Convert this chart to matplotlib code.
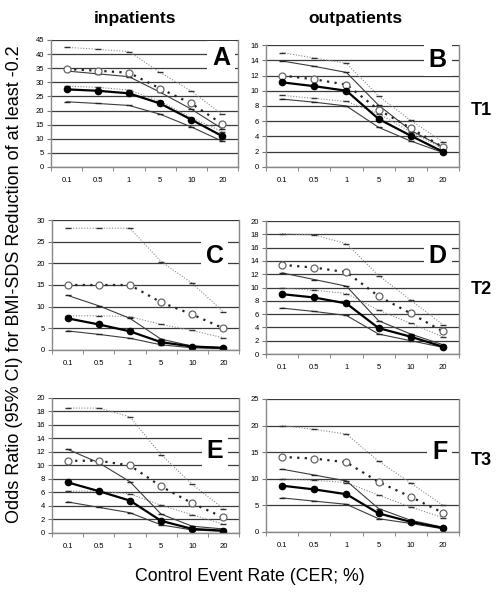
import matplotlib
matplotlib.use('Agg')
import matplotlib.pyplot as plt
import numpy as np

plt.rcParams['font.family'] = ['Liberation Sans', 'DejaVu Sans']

# Categories (control event rate, %)
cer_labels = ['0.1', '0.5', '1', '5', '10', '20']

# Values: hollow series (dotted) with its CI, filled series (solid) with its CI
A_hol_hi = [42.4, 41.7, 40.9, 33.5, 26.9, 18.6]
A_hol = [34.7, 34.1, 33.4, 27.8, 22.5, 15.2]
A_hol_lo = [28.7, 28.2, 27.3, 23.3, 17.5, 12.5]
A_fil_hi = [34.0, 33.0, 32.0, 26.5, 20.5, 13.5]
A_fil = [27.5, 27.0, 26.1, 22.5, 16.8, 10.9]
A_fil_lo = [23.1, 22.5, 21.8, 18.7, 14.2, 9.1]

B_hol_hi = [15.0, 14.3, 13.6, 9.3, 6.1, 3.3]
B_hol = [12.0, 11.5, 10.8, 7.5, 5.1, 2.6]
B_hol_lo = [9.4, 9.0, 8.6, 7.0, 4.6, 2.4]
B_fil_hi = [13.9, 13.2, 12.4, 8.1, 4.8, 2.6]
B_fil = [11.1, 10.6, 10.0, 6.3, 4.1, 2.0]
B_fil_lo = [8.9, 8.5, 8.0, 5.2, 3.4, 1.9]

C_hol_hi = [28.1, 28.1, 28.1, 20.4, 15.4, 8.8]
C_hol = [15.0, 15.0, 15.0, 11.0, 8.2, 5.0]
C_hol_lo = [7.9, 7.9, 7.7, 5.9, 4.5, 2.8]
C_fil_hi = [12.6, 10.2, 7.3, 2.5, 0.9, 0.5]
C_fil = [7.3, 5.9, 4.3, 1.8, 0.8, 0.5]
C_fil_lo = [4.4, 3.6, 2.7, 1.2, 0.5, 0.3]

D_hol_hi = [18.1, 17.9, 16.6, 11.8, 8.1, 4.4]
D_hol = [13.4, 13.0, 12.3, 8.7, 6.1, 3.4]
D_hol_lo = [9.9, 9.6, 9.1, 6.6, 4.6, 2.6]
D_fil_hi = [12.2, 11.2, 10.2, 5.0, 3.0, 1.4]
D_fil = [9.0, 8.5, 7.6, 3.9, 2.6, 1.1]
D_fil_lo = [6.9, 6.4, 5.8, 3.0, 2.0, 1.0]

E_hol_hi = [18.5, 18.5, 17.2, 11.6, 7.2, 3.6]
E_hol = [10.7, 10.7, 10.0, 6.9, 4.4, 2.3]
E_hol_lo = [6.2, 6.2, 5.8, 4.1, 2.7, 1.3]
E_fil_hi = [12.4, 10.4, 7.6, 2.8, 1.0, 0.6]
E_fil = [7.5, 6.2, 4.8, 1.8, 0.6, 0.35]
E_fil_lo = [4.6, 3.8, 3.0, 1.2, 0.45, 0.25]

F_hol_hi = [20.0, 19.3, 18.4, 13.3, 9.2, 5.0]
F_hol = [14.1, 13.8, 13.1, 9.4, 6.6, 3.6]
F_hol_lo = [10.0, 9.7, 9.3, 6.9, 4.7, 2.7]
F_fil_hi = [11.8, 10.7, 9.6, 4.4, 2.2, 0.9]
F_fil = [8.7, 8.0, 7.1, 3.5, 1.9, 0.75]
F_fil_lo = [6.4, 5.8, 5.2, 2.5, 1.6, 0.6]

# letter, axes rect, y max, y step, letter position (axes fraction), series
panels = [
    ('A', [0.102, 0.7184, 0.374, 0.2142], 45, 5, (0.91, 0.86),
     (A_hol_hi, A_hol, A_hol_lo, A_fil_hi, A_fil, A_fil_lo)),
    ('B', [0.532, 0.7184, 0.386, 0.2057], 16, 2, (0.89, 0.88),
     (B_hol_hi, B_hol, B_hol_lo, B_fil_hi, B_fil, B_fil_lo)),
    ('C', [0.104, 0.4098, 0.374, 0.2192], 30, 5, (0.87, 0.72),
     (C_hol_hi, C_hol, C_hol_lo, C_fil_hi, C_fil, C_fil_lo)),
    ('D', [0.532, 0.403, 0.386, 0.2243], 20, 2, (0.89, 0.74),
     (D_hol_hi, D_hol, D_hol_lo, D_fil_hi, D_fil, D_fil_lo)),
    ('E', [0.104, 0.1012, 0.374, 0.2277], 20, 2, (0.87, 0.61),
     (E_hol_hi, E_hol, E_hol_lo, E_fil_hi, E_fil, E_fil_lo)),
    ('F', [0.532, 0.1029, 0.386, 0.2243], 25, 5, (0.90, 0.60),
     (F_hol_hi, F_hol, F_hol_lo, F_fil_hi, F_fil, F_fil_lo)),
]

fig = plt.figure(figsize=(5.0, 5.93), dpi=100)
x = np.arange(len(cer_labels))

for letter, pos, ymax, step, lpos, (hol_hi, hol, hol_lo, fil_hi, fil, fil_lo) in panels:
    ax = fig.add_axes(pos)
    ax.set_xlim(-0.5, len(cer_labels) - 0.5)
    ax.set_ylim(0, ymax)
    ax.set_yticks(np.arange(0, ymax + 0.01, step))
    ax.yaxis.grid(True, color='#3a3a3a', lw=0.9)
    ax.set_axisbelow(True)

    # CI lines
    for s in (hol_hi, hol_lo):
        ax.plot(x, s, color='#8a8a8a', lw=0.8, ls=(0, (1, 1.5)),
                marker='_', ms=4, mec='#333333', mew=1.0)
    for s in (fil_hi, fil_lo):
        ax.plot(x, s, color='#3c3c3c', lw=0.8, ls='-',
                marker='_', ms=4, mec='#222222', mew=1.0)
    # point estimates
    ax.plot(x, hol, color='#222222', lw=1.6, ls=(0, (1, 2.4)),
            marker='o', ms=5, mfc='white', mec='#666666', mew=0.9)
    ax.plot(x, fil, color='black', lw=1.6, ls='-',
            marker='o', ms=4.5, mfc='black', mec='black')

    ax.set_xticks(x)
    ax.set_xticklabels(cer_labels)
    ax.set_xticks(np.arange(-0.5, len(cer_labels), 1), minor=True)
    ax.tick_params(axis='x', which='major', length=0, labelsize=5.5, pad=7)
    ax.tick_params(axis='x', which='minor', length=3, color='#777777')
    ax.tick_params(axis='y', length=3, labelsize=5.5, color='#777777', pad=2)
    for side in ('left', 'bottom', 'right'):
        ax.spines[side].set_color('#888888')
        ax.spines[side].set_linewidth(1.0)
    ax.spines['top'].set_visible(False)

    ax.text(lpos[0], lpos[1], letter, transform=ax.transAxes, ha='center', va='center',
            fontsize=18, fontweight='bold', color='black', zorder=5,
            bbox=dict(facecolor='white', edgecolor='none', pad=3.5))

fig.text(0.27, 0.968, 'inpatients', ha='center', va='center', fontsize=12.5, fontweight='bold')
fig.text(0.71, 0.968, 'outpatients', ha='center', va='center', fontsize=12.5, fontweight='bold')
fig.text(0.962, 0.813, 'T1', ha='center', va='center', fontsize=13, fontweight='bold')
fig.text(0.962, 0.512, 'T2', ha='center', va='center', fontsize=13, fontweight='bold')
fig.text(0.962, 0.224, 'T3', ha='center', va='center', fontsize=13, fontweight='bold')
fig.text(0.5, 0.027, 'Control Event Rate (CER; %)', ha='center', va='center', fontsize=12.8)
fig.text(0.03, 0.52, 'Odds Ratio (95% CI) for BMI-SDS Reduction of at least -0.2',
         ha='center', va='center', rotation=90, fontsize=13)

fig.savefig('out.png', dpi=100, facecolor='white')
